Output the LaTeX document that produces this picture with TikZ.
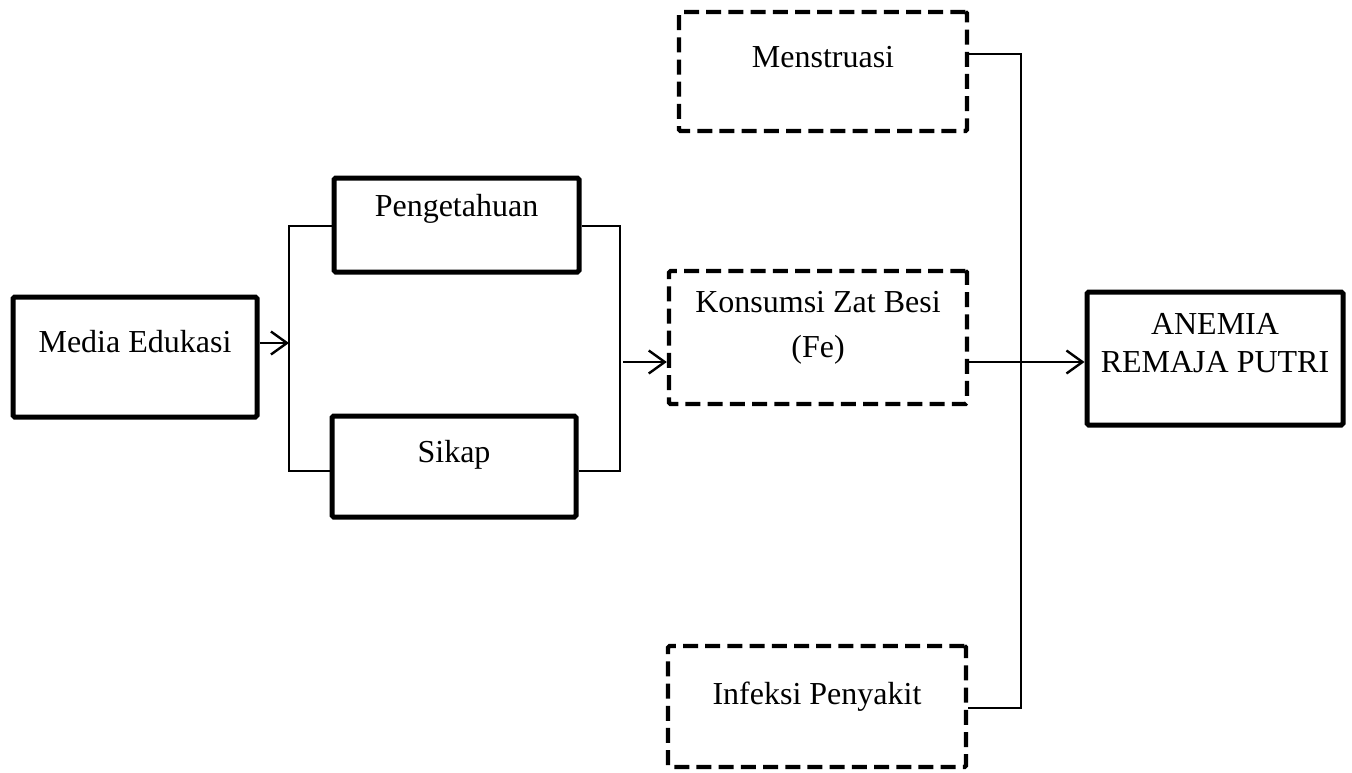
\documentclass[tikz,border=0pt]{standalone}
\usepackage{fontspec}
\setmainfont{Liberation Serif}
\usetikzlibrary{arrows.meta}
\begin{document}
\begin{tikzpicture}[x=0.5pt,y=-0.5pt,
  solidbox/.style={draw, line width=2.5pt, rounded corners=0.8pt, inner sep=0pt},
  dashbox/.style={draw, line width=2.2pt, rounded corners=0.8pt, inner sep=0pt,
    dash pattern=on 7.5pt off 3.6pt},
  txt/.style={inner sep=0pt, align=center, anchor=base,
    font=\fontsize{16}{19}\selectfont},
  link/.style={line width=0.8pt},
  arr/.style={line width=1.1pt, -{Straight Barb[length=8pt,width=11.5pt,line width=1.2pt]}}]
\useasboundingbox (0,0) rectangle (1352,772);

% boxes
\node[solidbox, minimum width=122pt, minimum height=60pt] (media) at (135,357) {};
\node[solidbox, minimum width=122.5pt, minimum height=47pt] (peng) at (456.5,225) {};
\node[solidbox, minimum width=122pt, minimum height=50.5pt] (sikap) at (454,466.5) {};
\node[dashbox, minimum width=144pt, minimum height=59.5pt] (mens) at (823,71.5) {};
\node[dashbox, minimum width=149pt, minimum height=66.5pt] (kons) at (818,337.5) {};
\node[dashbox, minimum width=149pt, minimum height=60.5pt] (infek) at (817,706.5) {};
\node[solidbox, minimum width=128pt, minimum height=66.5pt] (anemia) at (1215,358.5) {};

% labels (base anchor sits on the last line's baseline)
\node[txt] (tmedia) at (135,352) {Media Edukasi};
\node[txt] (tpeng) at (456.5,216) {Pengetahuan};
\node[txt] (tsikap) at (454,462) {Sikap};
\node[txt] (tmens) at (823,67) {Menstruasi};
\node[txt, font=\fontsize{16}{22.5}\selectfont] (tkons) at (818,357) {Konsumsi Zat Besi\\(Fe)};
\node[txt] (tinfek) at (817,704) {Infeksi Penyakit};
\node[txt] (tanemia) at (1215,372) {ANEMIA\\REMAJA PUTRI};

% bracket joints
\coordinate (lbt) at (289,226);
\coordinate (lbb) at (289,471);
\coordinate (rbt) at (620,226);
\coordinate (rbb) at (620,471);
\coordinate (rout) at (623,362);
\coordinate (busT) at (1021,54);
\coordinate (busB) at (1021,708);
\coordinate (main) at (0,362);

% connectors
\draw[arr] (media.east |- 0,343) -- (lbt |- 0,343);
\draw[link] (peng.west |- lbt) -- (lbt) -- (lbb) -- (sikap.west |- lbb);
\draw[link] (peng.east |- rbt) -- (rbt) -- (rbb) -- (sikap.east |- rbb);
\draw[arr] (rout) -- (kons.west |- rout);
\draw[arr] (kons.east |- main) -- (anemia.west |- main);
\draw[line width=1pt] (mens.east |- busT) -- (busT) -- (busB) -- (infek.east |- busB);
\end{tikzpicture}
\end{document}
